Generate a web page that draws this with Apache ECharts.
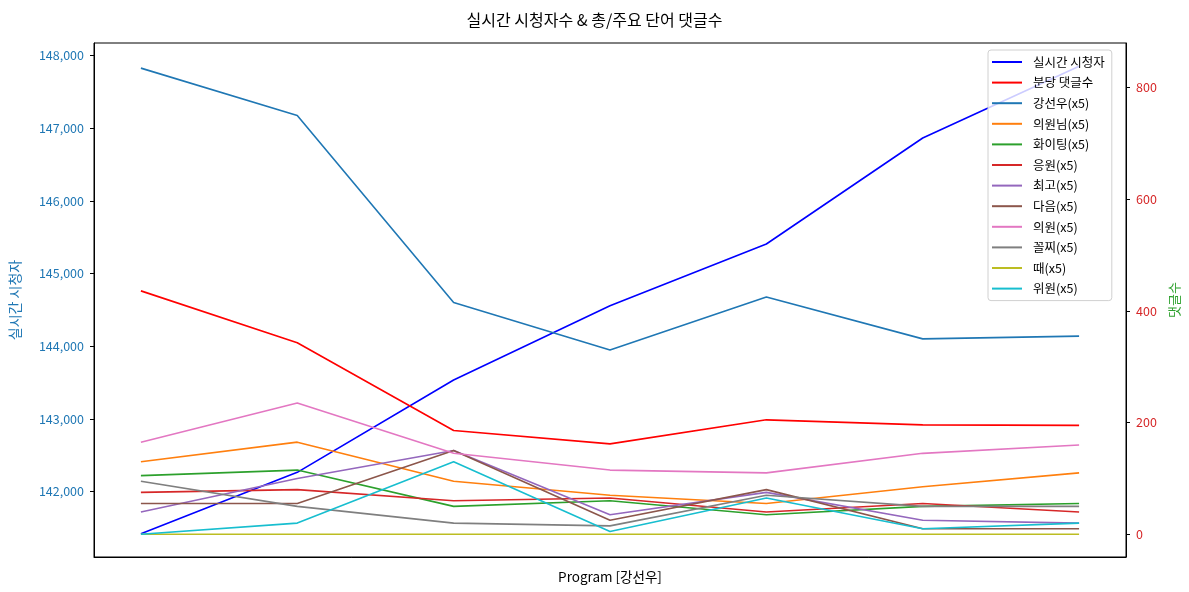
<!DOCTYPE html>
<html>
<head>
<meta charset="utf-8">
<script src="https://cdn.jsdelivr.net/npm/echarts@6/dist/echarts.min.js"></script>
<style>
html,body{margin:0;padding:0;background:#fff;}
#chart{width:1189px;height:592px;}
</style>
</head>
<body>
<div id="chart"></div>
<script>
// x positions (program samples)
const categories = [0, 1, 2, 3, 4, 5, 6];
// left axis: live viewers
const viewers = [141420, 142264, 143534, 144557, 145405, 146864, 147850];
// right axis: comments per minute and word counts (x5)
const commentsPerMin = [436, 343, 186, 162, 205, 196, 195];
const w_kangsunwoo = [835, 750, 415, 330, 425, 350, 355];
const w_uiwonnim   = [130, 165, 95, 70, 55, 85, 110];
const w_fighting   = [105, 115, 50, 60, 35, 50, 55];
const w_eungwon    = [75, 80, 60, 65, 40, 55, 40];
const w_choego     = [40, 100, 150, 35, 75, 25, 20];
const w_daeum      = [55, 55, 150, 25, 80, 10, 10];
const w_uiwon      = [165, 235, 145, 115, 110, 145, 160];
const w_kkoljji    = [95, 50, 20, 15, 70, 50, 50];
const w_ttae       = [0, 0, 0, 0, 0, 0, 0];
const w_wiwon      = [0, 20, 130, 5, 65, 10, 20];
const leftTicks = [142000, 143000, 144000, 145000, 146000, 147000, 148000];
const rightTicks = [0, 200, 400, 600, 800];

const FONT = '"Noto Sans CJK KR", "Noto Sans", sans-serif';
const toPairs = arr => arr.map((v, i) => [categories[i], v]);

const wordSeries = [
  ['강선우(x5)', w_kangsunwoo, '#1f77b4'],
  ['의원님(x5)', w_uiwonnim, '#ff7f0e'],
  ['화이팅(x5)', w_fighting, '#2ca02c'],
  ['응원(x5)', w_eungwon, '#d62728'],
  ['최고(x5)', w_choego, '#9467bd'],
  ['다음(x5)', w_daeum, '#8c564b'],
  ['의원(x5)', w_uiwon, '#e377c2'],
  ['꼴찌(x5)', w_kkoljji, '#7f7f7f'],
  ['때(x5)', w_ttae, '#bcbd22'],
  ['위원(x5)', w_wiwon, '#17becf']
];

function lineSeries(name, data, color, yIdx) {
  return {
    name: name, type: 'line', yAxisIndex: yIdx, data: toPairs(data),
    symbol: 'none', showSymbol: false, animation: false,
    lineStyle: { color: color, width: 1.6 }, itemStyle: { color: color }
  };
}

const series = [
  lineSeries('실시간 시청자', viewers, '#0000ff', 0),
  lineSeries('분당 댓글수', commentsPerMin, '#ff0000', 1)
].concat(wordSeries.map(s => lineSeries(s[0], s[1], s[2], 1)));

const chart = echarts.init(document.getElementById('chart'), null, { renderer: 'canvas' });
chart.setOption({
  animation: false,
  backgroundColor: '#fff',
  textStyle: { fontFamily: FONT },
  title: {
    text: '실시간 시청자수 & 총/주요 단어 댓글수',
    left: 'center', top: 7,
    textStyle: { fontFamily: FONT, fontSize: 16, fontWeight: 'normal', color: '#000' }
  },
  grid: { left: 94, right: 63, top: 43, bottom: 35, show: true, borderColor: '#000', borderWidth: 1,
    containLabel: false, outerBoundsMode: 'none' },
  legend: {
    orient: 'vertical', left: 988, top: 50,
    icon: 'rect', itemWidth: 30, itemHeight: 2, itemGap: 6.6,
    padding: [5, 7, 5, 4],
    backgroundColor: 'rgba(255,255,255,0.8)',
    borderColor: '#d0d0d0', borderWidth: 1, borderRadius: 3,
    textStyle: { fontFamily: FONT, fontSize: 12.5, color: '#000', lineHeight: 14, padding: [0, 0, 0, 6] },
    data: series.map(s => s.name)
  },
  xAxis: {
    type: 'value', min: -0.3, max: 6.3,
    name: 'Program [강선우]', nameLocation: 'middle', nameGap: 13,
    nameTextStyle: { fontFamily: FONT, fontSize: 13.5, color: '#000' },
    axisLine: { show: true, onZero: false, lineStyle: { color: '#000', width: 1 } },
    axisTick: { show: false }, axisLabel: { show: false }, splitLine: { show: false }
  },
  yAxis: [
    {
      type: 'value', position: 'left', min: 141099, max: 148171,
      name: '실시간 시청자', nameLocation: 'middle', nameGap: 72, nameRotate: 90,
      nameTextStyle: { fontFamily: FONT, fontSize: 14, color: '#1f77b4' },
      axisLine: { show: true, onZero: false, lineStyle: { color: '#000', width: 1 } },
      axisTick: { show: true, length: 4, lineStyle: { color: '#000' }, customValues: leftTicks },
      axisLabel: { customValues: leftTicks, margin: 10, fontFamily: FONT, fontSize: 12.5, color: '#1f77b4',
        formatter: v => Math.round(v).toLocaleString('en-US') },
      splitLine: { show: false }
    },
    {
      type: 'value', position: 'right', min: -40.7, max: 880,
      name: '댓글수', nameLocation: 'middle', nameGap: 40, nameRotate: 90,
      nameTextStyle: { fontFamily: FONT, fontSize: 13, color: '#2ca02c' },
      axisLine: { show: true, onZero: false, lineStyle: { color: '#000', width: 1 } },
      axisTick: { show: true, length: 4, lineStyle: { color: '#000' }, customValues: rightTicks },
      axisLabel: { customValues: rightTicks, margin: 10, fontFamily: FONT, fontSize: 12.5, color: '#d62728' },
      splitLine: { show: false }
    }
  ],
  series: series
});
</script>
</body>
</html>
